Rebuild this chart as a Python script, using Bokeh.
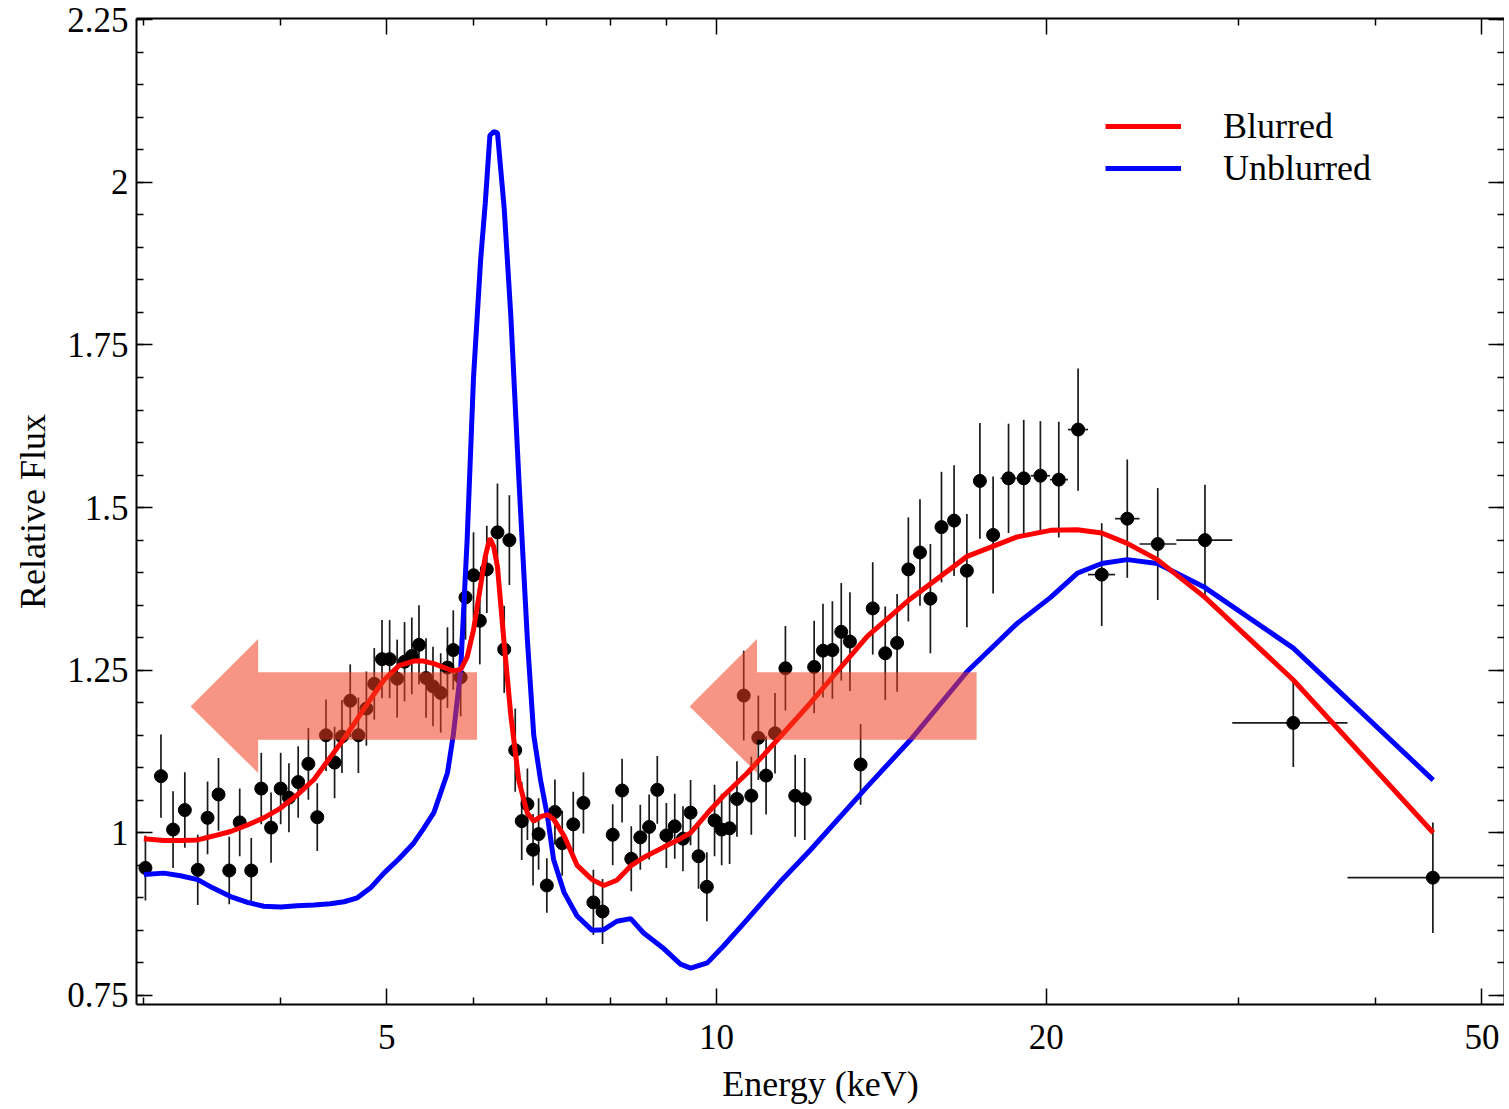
from bokeh.plotting import figure
from bokeh.models import (FixedTicker, LinearAxis, LogAxis, Legend, LegendItem,
                          Range1d, CustomJSTickFormatter)
from bokeh.embed import file_html
from bokeh.resources import INLINE

# ---------------- data ----------------
energy = [3.01, 3.11, 3.19, 3.27, 3.36, 3.43, 3.51, 3.59, 3.67, 3.76,
          3.84, 3.92, 4.00, 4.07, 4.15, 4.24, 4.32, 4.40, 4.48, 4.55,
          4.63, 4.71, 4.79, 4.87, 4.95, 5.03, 5.11, 5.19, 5.27, 5.35,
          5.43, 5.51, 5.60, 5.68, 5.75, 5.84, 5.90, 6.00, 6.08, 6.17,
          6.31, 6.40, 6.47, 6.55, 6.64, 6.72, 6.80, 6.88, 7.00, 7.12,
          7.23, 7.40, 7.56, 7.72, 7.87, 8.04, 8.20, 8.36, 8.52, 8.68,
          8.83, 9.00, 9.16, 9.32, 9.47, 9.63, 9.80, 9.96, 10.11, 10.28,
          10.44, 10.59, 10.76, 10.92, 11.10, 11.31, 11.56, 11.80, 12.04, 12.28,
          12.51, 12.76, 13.00, 13.24, 13.54, 13.89, 14.26, 14.62, 14.97, 15.34,
          15.68, 16.05, 16.48, 16.93, 17.40, 17.89, 18.48, 19.08, 19.76, 20.54,
          21.39, 22.48, 23.72, 25.29, 27.93, 33.63, 45.10]
flux = [0.946, 1.087, 1.005, 1.035, 0.943, 1.023, 1.059, 0.942, 1.016, 0.942,
        1.068, 1.008, 1.068, 1.054, 1.078, 1.106, 1.024, 1.150, 1.108, 1.148,
        1.203, 1.150, 1.191, 1.229, 1.267, 1.267, 1.237, 1.263, 1.272, 1.289,
        1.238, 1.225, 1.215, 1.254, 1.281, 1.239, 1.362, 1.396, 1.326, 1.405,
        1.462, 1.282, 1.450, 1.127, 1.018, 1.044, 0.974, 0.998, 0.919, 1.032,
        0.984, 1.013, 1.046, 0.893, 0.879, 0.997, 1.065, 0.960, 0.993, 1.009,
        1.066, 0.996, 1.010, 0.991, 1.031, 0.964, 0.917, 1.019, 1.005, 1.007,
        1.052, 1.211, 1.057, 1.146, 1.088, 1.153, 1.253, 1.057, 1.052, 1.255,
        1.280, 1.281, 1.309, 1.294, 1.105, 1.345, 1.276, 1.292, 1.405, 1.431,
        1.360, 1.470, 1.480, 1.403, 1.541, 1.458, 1.545, 1.545, 1.549, 1.543,
        1.620, 1.397, 1.483, 1.444, 1.450, 1.169, 0.931]
flux_err = [0.050, 0.064, 0.059, 0.058, 0.054, 0.056, 0.056, 0.052, 0.052, 0.050,
            0.055, 0.054, 0.055, 0.053, 0.055, 0.055, 0.052, 0.055, 0.055, 0.056,
            0.056, 0.058, 0.057, 0.055, 0.060, 0.060, 0.060, 0.061, 0.059, 0.061,
            0.061, 0.061, 0.061, 0.062, 0.061, 0.060, 0.065, 0.066, 0.067, 0.067,
            0.075, 0.067, 0.069, 0.064, 0.060, 0.055, 0.055, 0.055, 0.042, 0.050,
            0.050, 0.050, 0.047, 0.050, 0.050, 0.047, 0.049, 0.050, 0.050, 0.050,
            0.052, 0.050, 0.050, 0.050, 0.050, 0.050, 0.053, 0.055, 0.055, 0.055,
            0.058, 0.069, 0.060, 0.065, 0.060, 0.062, 0.065, 0.063, 0.063, 0.071,
            0.072, 0.075, 0.075, 0.076, 0.062, 0.071, 0.072, 0.075, 0.080, 0.082,
            0.084, 0.085, 0.085, 0.087, 0.089, 0.090, 0.084, 0.090, 0.084, 0.089,
            0.094, 0.079, 0.091, 0.086, 0.085, 0.068, 0.085]
# energy bin edges of the last (wide) bins, whose horizontal bars are visible
wide_bin_lo = [18.17, 18.79, 19.36, 20.16, 20.94, 21.84, 23.12, 24.34, 26.30, 29.58, 37.69]
wide_bin_hi = [18.79, 19.36, 20.16, 20.94, 21.84, 23.12, 24.34, 26.30, 29.58, 37.69, 53.9]

model_energy = [3.00, 3.13, 3.24, 3.36, 3.47, 3.60, 3.73, 3.86, 4.00, 4.14,
                4.29, 4.44, 4.57, 4.70, 4.83, 4.97, 5.13, 5.29, 5.40, 5.52,
                5.68, 5.75, 5.84, 5.92, 6.00, 6.09, 6.15, 6.21, 6.26, 6.31,
                6.40, 6.49, 6.60, 6.72, 6.81, 6.91, 7.01, 7.10, 7.26, 7.46,
                7.70, 7.89, 8.11, 8.35, 8.58, 8.95, 9.27, 9.47, 9.81, 10.15,
                10.67, 11.44, 12.19, 13.73, 15.04, 16.94, 18.82, 20.19, 21.35, 22.48,
                23.72, 25.27, 27.93, 33.63, 45.13]
blurred = [0.991, 0.988, 0.988, 0.989, 0.995, 1.002, 1.012, 1.023, 1.038, 1.058,
           1.082, 1.116, 1.145, 1.175, 1.205, 1.235, 1.257, 1.264, 1.264, 1.260,
           1.252, 1.249, 1.251, 1.270, 1.312, 1.380, 1.425, 1.453, 1.440, 1.409,
           1.290, 1.180, 1.080, 1.030, 1.018, 1.025, 1.028, 1.021, 0.995, 0.950,
           0.928, 0.919, 0.927, 0.949, 0.962, 0.978, 0.991, 1.000, 1.030, 1.057,
           1.092, 1.148, 1.200, 1.302, 1.360, 1.425, 1.455, 1.465, 1.466, 1.461,
           1.445, 1.420, 1.362, 1.235, 1.000]
unblurred = [0.936, 0.938, 0.934, 0.928, 0.915, 0.902, 0.893, 0.887, 0.886, 0.888,
             0.889, 0.891, 0.894, 0.900, 0.915, 0.938, 0.960, 0.984, 1.006, 1.031,
             1.092, 1.150, 1.250, 1.450, 1.700, 1.880, 1.968, 2.072, 2.078, 2.076,
             1.960, 1.794, 1.545, 1.296, 1.150, 1.080, 1.025, 0.959, 0.908, 0.872,
             0.850, 0.851, 0.864, 0.868, 0.846, 0.822, 0.798, 0.792, 0.800, 0.826,
             0.867, 0.925, 0.974, 1.071, 1.143, 1.248, 1.322, 1.362, 1.399, 1.414,
             1.420, 1.414, 1.377, 1.284, 1.081]

x_major = [5, 10, 20, 50]
x_minor = [3, 4, 6, 7, 8, 9, 30, 40]
y_major = [0.75, 1.0, 1.25, 1.5, 1.75, 2.0, 2.25]
y_minor = [round(0.75 + 0.05 * i, 2) for i in range(31)]

# shaded arrows (annotation shapes, data coordinates)
arrow_left_x = [3.31, 3.815, 3.815, 6.045, 6.045, 3.815, 3.815]
arrow_right_x = [9.45, 10.89, 10.89, 17.28, 17.28, 10.89, 10.89]
arrow_y = [1.194, 1.298, 1.247, 1.247, 1.143, 1.143, 1.092]

FONT = "Liberation Serif"

p = figure(frame_width=1368, frame_height=986, x_axis_type="log",
           x_range=Range1d(2.954, 52.43), y_range=Range1d(0.736, 2.252),
           output_backend="svg", toolbar_location=None,
           min_border_left=136, min_border_top=18, min_border_right=0,
           min_border_bottom=60, background_fill_color="white",
           border_fill_color="white")
p.grid.visible = False
p.outline_line_color = None

# error bars
p.segment(x0=energy, x1=energy,
          y0=[f - e for f, e in zip(flux, flux_err)],
          y1=[f + e for f, e in zip(flux, flux_err)],
          line_color="#1a1a1a", line_width=1.7)
n_wide = len(wide_bin_lo)
p.segment(x0=wide_bin_lo, x1=wide_bin_hi, y0=flux[-n_wide:], y1=flux[-n_wide:],
          line_color="#1a1a1a", line_width=1.7)
p.scatter(energy, flux, size=13, color="black")

r_blue = p.line(model_energy, unblurred, line_color="#0000ff", line_width=5)
r_red = p.line(model_energy, blurred, line_color="#ff0000", line_width=5)

for ax in (arrow_left_x, arrow_right_x):
    p.patch(ax, arrow_y, fill_color=(240, 60, 30), fill_alpha=0.55, line_color=None)

# axes
xt = FixedTicker(ticks=x_major, minor_ticks=x_minor)
yt = FixedTicker(ticks=y_major, minor_ticks=y_minor)
fmt = CustomJSTickFormatter(code="return String(Math.round(tick*100)/100);")
blank = CustomJSTickFormatter(code="return '';")

def style(axis):
    axis.axis_line_width = 2
    axis.axis_line_color = "black"
    axis.major_tick_line_width = 1.5
    axis.minor_tick_line_width = 1.5
    axis.major_tick_in = 16
    axis.major_tick_out = 0
    axis.minor_tick_in = 7
    axis.minor_tick_out = 0
    axis.major_label_text_font = FONT
    axis.major_label_text_font_size = "35px"
    axis.major_label_text_color = "black"
    axis.axis_label_text_font = FONT
    axis.axis_label_text_font_size = "36px"
    axis.axis_label_text_font_style = "normal"
    axis.axis_label_text_color = "black"

xa = p.xaxis[0]
xa.ticker = xt
xa.formatter = fmt
xa.axis_label = "Energy (keV)"
style(xa)
xa.major_label_standoff = 20
xa.axis_label_standoff = 12

ya = p.yaxis[0]
ya.ticker = yt
ya.formatter = fmt
ya.axis_label = "Relative Flux"
style(ya)
ya.major_label_standoff = 8
ya.axis_label_standoff = 11

ra = LinearAxis(ticker=yt, formatter=blank)
style(ra)
ra.major_label_text_font_size = "1px"
ra.major_label_standoff = 0
p.add_layout(ra, "right")

ta = LogAxis(ticker=xt, formatter=blank)
style(ta)
ta.major_label_text_font_size = "1px"
ta.major_label_standoff = 0
p.add_layout(ta, "above")

legend = Legend(items=[LegendItem(label="Blurred", renderers=[r_red]),
                       LegendItem(label="Unblurred", renderers=[r_blue])],
                location=(969, 815), border_line_color=None,
                background_fill_alpha=0, padding=0, margin=0, spacing=0,
                glyph_width=76, glyph_height=40, label_height=40,
                label_standoff=42, label_text_font=FONT,
                label_text_font_size="36px", label_text_color="black")
p.add_layout(legend)

open("out.html", "w").write(file_html(p, INLINE))
